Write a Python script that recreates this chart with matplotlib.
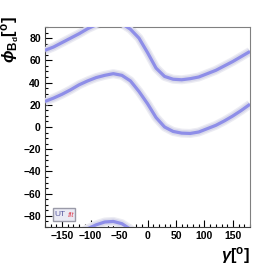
import numpy as np
import matplotlib
matplotlib.use("Agg")
import matplotlib.pyplot as plt
from matplotlib.ticker import MultipleLocator
from matplotlib.patches import FancyBboxPatch

plt.rcParams['font.family'] = ['Liberation Sans', 'DejaVu Sans']
plt.rcParams['font.weight'] = 'bold'
plt.rcParams['mathtext.fontset'] = 'custom'
plt.rcParams['mathtext.rm'] = 'Liberation Sans'
plt.rcParams['mathtext.it'] = 'Liberation Sans:italic'
plt.rcParams['mathtext.bf'] = 'Liberation Sans:bold'

gamma = [-180, -165, -150, -135, -120, -105, -90, -75, -60, -45, -30, -15,
         0, 15, 30, 45, 60, 75, 90, 105, 120, 135, 150, 165, 180]
phi_upper = [69, 72, 76, 80, 84, 88.5, 92, 94.5, 95, 93, 88, 80,
             67, 53, 45.5, 43, 42.5, 43.5, 45, 48, 51, 55, 59, 63.5, 68]
phi_lower = [23, 26, 29.5, 33.5, 38, 41.5, 44.5, 46.5, 48, 46.5, 41.5, 32,
             21, 8.5, 0, -4, -5.5, -5.8, -4.5, -1.5, 1.5, 5.5, 10, 15, 20.5]
period = 180

xticks = [-150, -100, -50, 0, 50, 100, 150]
yticks = [-80, -60, -40, -20, 0, 20, 40, 60, 80]

W, H = 279, 268
fig = plt.figure(figsize=(W / 100, H / 100), dpi=100)
ax = fig.add_axes([45 / W, 1 - 227 / H, 205 / W, 200 / H])

g = np.array(gamma, dtype=float)
curves = [np.array(phi_upper), np.array(phi_lower), np.array(phi_upper) - period]
for c in curves:
    ax.plot(g, c, color='#ececf3', lw=6.5, solid_capstyle='butt',
            solid_joinstyle='round', zorder=2)
    ax.plot(g, c, color='#dadaeb', lw=4.6, solid_capstyle='butt',
            solid_joinstyle='round', zorder=3)
    ax.plot(g, c, color='#8e8ee8', lw=2.3, solid_capstyle='butt',
            solid_joinstyle='round', zorder=4)

ax.set_xlim(-180, 180)
ax.set_ylim(-90, 90)
ax.set_xticks(xticks)
ax.set_yticks(yticks)
ax.xaxis.set_minor_locator(MultipleLocator(10))
ax.yaxis.set_minor_locator(MultipleLocator(5))
ax.tick_params(which='both', direction='in', top=False, right=False,
               labelsize=7.5, pad=3, width=0.8, color='black')
ax.tick_params(which='major', length=5)
ax.tick_params(which='minor', length=2.5)

for s in ['top', 'right']:
    ax.spines[s].set_color('#808080')
    ax.spines[s].set_linewidth(0.8)
for s in ['left', 'bottom']:
    ax.spines[s].set_color('#404040')
    ax.spines[s].set_linewidth(0.8)

fig.text(250 / W, 1 - 255 / H, r'$\gamma[^{\mathbf{o}}]$', ha='right', va='center',
         fontsize=12)
fig.text(11 / W, 1 - 40 / H, r'$\phi_{\mathbf{B_d}}[^{\mathbf{o}}]$', ha='center',
         va='center', rotation=90, fontsize=12)

# UTfit logo
box = FancyBboxPatch((53 / W, 1 - 221 / H), 22 / W, 13 / H, boxstyle='square,pad=0',
                     transform=fig.transFigure, facecolor='#eaeaf4',
                     edgecolor='#9a9aa8', lw=1.0, zorder=10)
fig.patches.append(box)
fig.text(54.5 / W, 1 - 214.5 / H, 'UT', color='#5a5aa0', fontsize=6,
         fontweight='normal', ha='left', va='center', zorder=11)
fig.text(74 / W, 1 - 215.5 / H, 'fit', color='#e05060', fontsize=6,
         fontweight='normal', style='italic', ha='right', va='center', zorder=11)

fig.savefig('out.png', dpi=100)
